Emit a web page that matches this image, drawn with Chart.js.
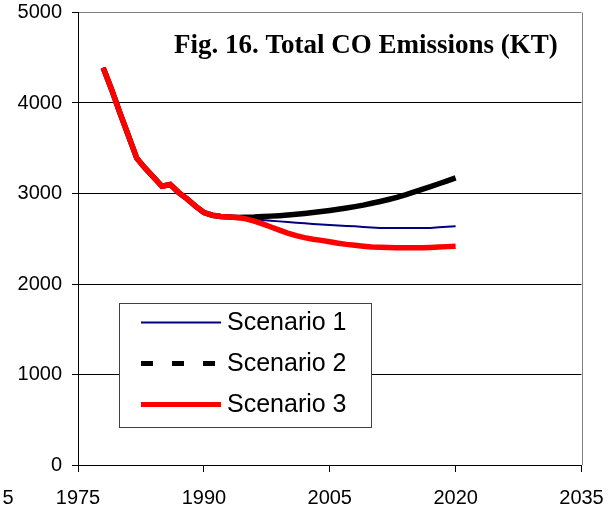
<!DOCTYPE html>
<html>
<head>
<meta charset="utf-8">
<title>Fig. 16. Total CO Emissions (KT)</title>
<script src="https://cdn.jsdelivr.net/npm/chart.js@4.4.1/dist/chart.umd.min.js"></script>
<style>
  html, body { margin: 0; padding: 0; background: #fff; }
  #chart { display: block; }
</style>
</head>
<body>
<canvas id="chart" width="612" height="510"></canvas>
<script>
// --- Data ---
const years = [
  1978, 1979, 1980, 1981, 1982, 1983, 1984, 1985, 1986, 1987,
  1988, 1989, 1990, 1991, 1992, 1993, 1994, 1995, 1996, 1997,
  1998, 1999, 2000, 2001, 2002, 2003, 2004, 2005, 2006, 2007,
  2008, 2009, 2010, 2011, 2012, 2013, 2014, 2015, 2016, 2017,
  2018, 2019, 2020
];
const scenario1 = [
  4390, 4150, 3890, 3640, 3390, 3280, 3180, 3080, 3100, 3010,
  2940, 2860, 2790, 2760, 2745, 2740, 2735, 2725, 2715, 2708,
  2700, 2692, 2684, 2677, 2670, 2664, 2657, 2652, 2647, 2642,
  2637, 2630, 2625, 2620, 2619, 2618, 2618, 2618, 2618, 2620,
  2626, 2632, 2638
];
const scenario2 = [
  4390, 4150, 3890, 3640, 3390, 3280, 3180, 3080, 3100, 3010,
  2940, 2860, 2790, 2760, 2745, 2740, 2735, 2738, 2740, 2745,
  2750, 2755, 2762, 2770, 2780, 2790, 2800, 2812, 2826, 2840,
  2855, 2872, 2892, 2912, 2934, 2958, 2985, 3015, 3045, 3075,
  3108, 3140, 3172
];
const scenario3 = [
  4390, 4150, 3890, 3640, 3390, 3280, 3180, 3080, 3100, 3010,
  2940, 2860, 2790, 2760, 2745, 2740, 2735, 2720, 2695, 2665,
  2630, 2595, 2562, 2535, 2512, 2495, 2482, 2466, 2451, 2438,
  2428, 2418, 2410, 2406, 2403, 2401, 2400, 2400, 2401, 2404,
  2408, 2413, 2418
];
const seriesNames = ['Scenario 1', 'Scenario 2', 'Scenario 3'];
const xTicks = [1975, 1990, 2005, 2020, 2035];
const yTicks = [0, 1000, 2000, 3000, 4000, 5000];
const chartTitle = 'Fig. 16. Total CO Emissions (KT)';
const strayLabel = '5';

const toPoints = values => years.map((yr, i) => ({ x: yr, y: values[i] }));

// no overhang padding, so the plot area sits where the figure has it
const noOverhang = s => {
  s.paddingTop = 0; s.paddingBottom = 0;
  s.paddingLeft = 0; s.paddingRight = 0;
};

// --- Plugins: frame, title, legend box ---
const framePlugin = {
  id: 'frame',
  beforeDatasetsDraw(chart) {
    const { ctx, chartArea: a } = chart;
    ctx.save();
    ctx.strokeStyle = '#808080';
    ctx.lineWidth = 1;
    ctx.beginPath();
    ctx.moveTo(Math.round(a.right) + 0.5, a.top);
    ctx.lineTo(Math.round(a.right) + 0.5, a.bottom);
    ctx.stroke();
    ctx.restore();
  },
  afterDraw(chart) {
    const { ctx } = chart;
    ctx.save();
    ctx.fillStyle = '#000';
    ctx.font = '20px "Liberation Sans", Arial, sans-serif';
    ctx.textAlign = 'center';
    ctx.textBaseline = 'middle';
    ctx.fillText(strayLabel, 8, 498);
    ctx.restore();
  }
};

const titlePlugin = {
  id: 'innerTitle',
  afterDatasetsDraw(chart) {
    const { ctx } = chart;
    ctx.save();
    ctx.fillStyle = '#000';
    ctx.font = 'bold 27px "Liberation Serif", "Times New Roman", serif';
    ctx.textAlign = 'left';
    ctx.textBaseline = 'alphabetic';
    ctx.fillText(chartTitle, 174, 53);
    ctx.restore();
  }
};

const legendPlugin = {
  id: 'boxLegend',
  afterDatasetsDraw(chart) {
    const { ctx } = chart;
    const box = { left: 119.5, top: 303.5, width: 252, height: 124 };
    ctx.save();
    ctx.fillStyle = '#fff';
    ctx.fillRect(box.left, box.top, box.width, box.height);
    ctx.strokeStyle = '#404040';
    ctx.lineWidth = 1;
    ctx.strokeRect(box.left, box.top, box.width, box.height);

    chart.data.datasets.forEach((ds, i) => {
      const y = 322.5 + i * 41;
      ctx.beginPath();
      ctx.setLineDash(ds.legendDash || []);
      ctx.strokeStyle = ds.borderColor;
      ctx.lineWidth = ds.legendWidth;
      ctx.moveTo(141, y);
      ctx.lineTo(221, y);
      ctx.stroke();
      ctx.setLineDash([]);
      ctx.fillStyle = '#000';
      ctx.font = '25px "Liberation Sans", Arial, sans-serif';
      ctx.textAlign = 'left';
      ctx.textBaseline = 'middle';
      ctx.fillText(ds.label, 227, y + 1);
    });
    ctx.restore();
  }
};

new Chart(document.getElementById('chart'), {
  type: 'line',
  data: {
    datasets: [
      {
        label: seriesNames[0],
        data: toPoints(scenario1),
        borderColor: '#000080',
        borderWidth: 2,
        legendWidth: 2,
        order: 3
      },
      {
        label: seriesNames[1],
        data: toPoints(scenario2),
        borderColor: '#000000',
        borderWidth: 5.5,
        legendWidth: 5,
        legendDash: [12, 19],
        order: 2
      },
      {
        label: seriesNames[2],
        data: toPoints(scenario3),
        borderColor: '#ff0000',
        borderWidth: 5.5,
        legendWidth: 5,
        order: 1
      }
    ]
  },
  options: {
    responsive: false,
    animation: false,
    layout: { padding: { left: 0, top: 12.5, right: 30.5, bottom: 0 } },
    elements: {
      point: { radius: 0 },
      line: { tension: 0, fill: false }
    },
    scales: {
      x: {
        type: 'linear',
        min: 1975,
        max: 2035,
        afterBuildTicks: s => { s.ticks = xTicks.map(v => ({ value: v })); },
        afterFit: s => { s.height = 45; noOverhang(s); },
        ticks: {
          color: '#000',
          padding: 14,
          maxRotation: 0,
          autoSkip: false,
          callback: v => String(v),
          font: { family: '"Liberation Sans", Arial, sans-serif', size: 20 }
        },
        grid: { drawOnChartArea: false, drawTicks: true, tickLength: 7, color: '#000' },
        border: { display: true, color: '#000', width: 1 }
      },
      y: {
        min: 0,
        max: 5000,
        afterBuildTicks: s => { s.ticks = yTicks.map(v => ({ value: v })); },
        afterFit: s => { s.width = 78; noOverhang(s); },
        ticks: {
          color: '#000',
          padding: 10,
          callback: v => String(v),
          font: { family: '"Liberation Sans", Arial, sans-serif', size: 20 }
        },
        grid: {
          color: c => (c.tick && c.tick.value === 5000 ? '#808080' : '#000'),
          tickColor: '#000',
          tickLength: 6
        },
        border: { display: true, color: '#000', width: 1 }
      }
    },
    plugins: {
      legend: { display: false },
      title: { display: false },
      tooltip: { enabled: false }
    }
  },
  plugins: [framePlugin, titlePlugin, legendPlugin]
});
</script>
</body>
</html>
